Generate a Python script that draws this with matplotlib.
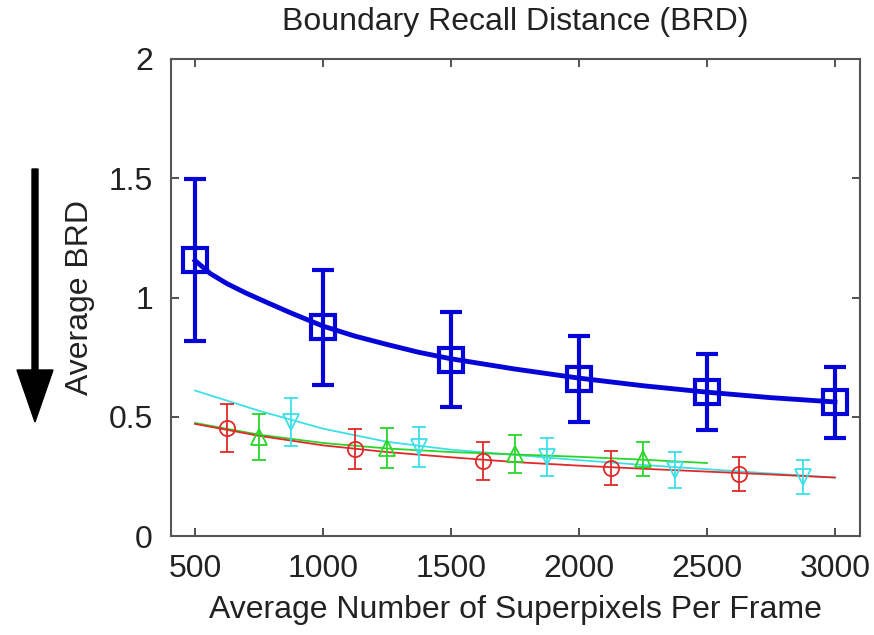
import matplotlib
matplotlib.use('Agg')
import matplotlib.pyplot as plt
from matplotlib.patches import FancyArrow
from matplotlib.transforms import IdentityTransform

plt.rcParams['font.family'] = ['Liberation Sans', 'DejaVu Sans']

# ─── data ───────────────────────────────────────────────────────────────
curve_x = [500, 750, 1000, 1250, 1500, 1750, 2000, 2250, 2500, 2750, 3000]

blue_x   = [500, 1000, 1500, 2000, 2500, 3000]
blue_y   = [1.157, 0.875, 0.740, 0.660, 0.603, 0.560]
blue_err = [0.34, 0.24, 0.20, 0.18, 0.16, 0.15]
blue_cx   = [500, 560, 625, 700, 775, 875, 1000, 1125, 1250, 1375, 1500,
             1750, 2000, 2250, 2500, 2750, 3000]
blue_line = [1.155, 1.10, 1.058, 1.018, 0.982, 0.935, 0.880, 0.838, 0.803, 0.770, 0.743,
             0.700, 0.662, 0.630, 0.603, 0.580, 0.562]

red_x   = [625, 1125, 1625, 2125, 2625]
red_y   = [0.453, 0.365, 0.315, 0.285, 0.260]
red_err = [0.100, 0.085, 0.080, 0.072, 0.070]
red_line = [0.470, 0.420, 0.380, 0.352, 0.330, 0.310, 0.295, 0.282, 0.270, 0.258, 0.245]

green_x   = [750, 1250, 1750, 2250]
green_y   = [0.415, 0.369, 0.344, 0.323]
green_err = [0.095, 0.085, 0.078, 0.070]
green_cx   = [500, 750, 1000, 1250, 1500, 1750, 2000, 2250, 2500]
green_line = [0.474, 0.425, 0.390, 0.367, 0.352, 0.342, 0.332, 0.320, 0.306]

cyan_x   = [875, 1375, 1875, 2375, 2875]
cyan_y   = [0.478, 0.373, 0.331, 0.277, 0.247]
cyan_err = [0.100, 0.085, 0.078, 0.075, 0.072]
cyan_line = [0.610, 0.525, 0.450, 0.395, 0.362, 0.340, 0.318, 0.298, 0.280, 0.262, 0.245]

xticks = [500, 1000, 1500, 2000, 2500, 3000]
yticks = [0, 0.5, 1, 1.5, 2]
yticklabels = ['0', '0.5', '1', '1.5', '2']

C_BLUE, C_RED, C_GREEN, C_CYAN = '#0505d8', '#e02a2a', '#2ad62a', '#3ce0e6'
FS = 23

fig = plt.figure(figsize=(8.74, 6.35), dpi=100)
ax = fig.add_axes([171/874, 1-536/635, (860-171)/874, (536-59)/635])

# thin series
for cx, cl, px, py, pe, col, mk in [
        (curve_x,  cyan_line,  cyan_x,  cyan_y,  cyan_err,  C_CYAN,  'v'),
        (green_cx, green_line, green_x, green_y, green_err, C_GREEN, '^'),
        (curve_x,  red_line,   red_x,   red_y,   red_err,   C_RED,   'o')]:
    ax.plot(cx, cl, color=col, lw=1.3, zorder=2)
    ax.errorbar(px, py, yerr=pe, fmt=mk, color=col, mfc='none', mec=col,
                ms=11, mew=1.3, elinewidth=1.3, capsize=5, capthick=1.3, zorder=3)

# thick blue series
ax.plot(blue_cx, blue_line, color=C_BLUE, lw=3.5, zorder=4)
ax.errorbar(blue_x, blue_y, yerr=blue_err, fmt='s', color=C_BLUE, mfc='none',
            mec=C_BLUE, ms=17, mew=3, elinewidth=3, capsize=8, capthick=3, zorder=5)

ax.set_xlim(406, 3098)
ax.set_ylim(0, 2)
ax.set_xticks(xticks)
ax.set_yticks(yticks)
ax.set_yticklabels(yticklabels)
ax.tick_params(direction='in', top=True, right=True, length=6, width=1.2,
               labelsize=FS, colors='#333333', labelcolor='#222222')
ax.tick_params(axis='x', pad=13)
ax.tick_params(axis='y', pad=13)
for s in ax.spines.values():
    s.set_color('#555555')
    s.set_linewidth(1.5)

ax.set_title('Boundary Recall Distance (BRD)', fontsize=FS, color='#222222', pad=21)
ax.set_xlabel('Average Number of Superpixels Per Frame', fontsize=FS,
              color='#222222', labelpad=8)
ax.set_ylabel('Average BRD', fontsize=FS, color='#222222', labelpad=10)

# black arrow at the far left
fig.patches.append(FancyArrow(35, 635-169, 0, -(422-169), width=6, head_width=36,
                              head_length=52, length_includes_head=True,
                              color='black', transform=IdentityTransform()))

fig.savefig('out.png', dpi=100, facecolor='white')
